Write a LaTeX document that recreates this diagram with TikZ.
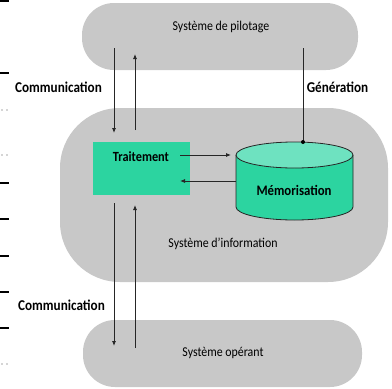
\documentclass[tikz,border=0pt]{standalone}
\usepackage{fontspec}
\setmainfont{Carlito}
\usetikzlibrary{arrows.meta}
\definecolor{pillgray}{RGB}{200,200,200}
\definecolor{tgreen}{RGB}{44,212,160}
\definecolor{tlight}{RGB}{110,226,192}
\newcommand{\cnd}[1]{\scalebox{0.88}[1]{#1}}
\begin{document}
\begin{tikzpicture}[x=1pt,y=-1pt,
  lab/.style={font=\bfseries\fontsize{15}{16}\selectfont,inner sep=0},
  tit/.style={font=\fontsize{13.5}{15}\selectfont,inner sep=0},
  conn/.style={draw=black!85,line width=0.8pt,-{Latex[length=5pt,width=4pt]}},
  edgemark/.style={draw=black,line width=1.4pt}]
\useasboundingbox (0,0) rectangle (392,389);
\fill[white] (0,0) rectangle (392,389);
% pills
\fill[pillgray,rounded corners=32pt] (82,3) rectangle (358,70);
\node[tit] (pil) at (221,27) {\cnd{Système de pilotage}};
\fill[pillgray,rounded corners=60pt] (60,108) rectangle (388,282);
\node[tit] (inf) at (223,244) {\cnd{Système d'information}};
\fill[pillgray,rounded corners=32pt] (83,320) rectangle (362,387);
\node[tit] (ope) at (223,353) {\cnd{Système opérant}};
% traitement
\node[fill=tgreen,minimum width=97pt,minimum height=53pt,inner sep=0] (tr) at (141.5,168.5) {};
\node[lab,font=\bfseries\fontsize{14}{15}\selectfont] at (141,157) {\cnd{Traitement}};
% cylinder
\filldraw[fill=tgreen,draw=black!85,line width=0.8pt]
  (236,155) -- (236,207) arc[start angle=180,end angle=360,x radius=58.5,y radius=-13] -- (353,155);
\filldraw[fill=tlight,draw=black!85,line width=0.8pt] (294.5,155) ellipse[x radius=58.5,y radius=13];
\node[lab,font=\bfseries\fontsize{14.5}{15}\selectfont] (mem) at (294,190) {\cnd{Mémorisation}};
\coordinate (memtop) at (303,142);
\coordinate (meml) at (236,181);
% connectors
\coordinate (p1) at (114,48);
\coordinate (p2) at (135,54);
\coordinate (p3) at (303,48);
\coordinate (t1) at (114,133);
\coordinate (t2) at (135,130);
\draw[conn] (p1) -- (t1);
\draw[conn] (t2) -- (p2);
\draw[draw=black!85,line width=0.8pt] (p3) -- (memtop);
\fill[black] (memtop) circle (2pt);
\draw[conn] (180,155) -- (231,155);
\draw[conn] (meml) -- (180,181);
\coordinate (b1) at (114,203);
\coordinate (b2) at (135,205);
\coordinate (o1) at (114,346);
\coordinate (o2) at (135,348);
\draw[conn] (b1) -- (o1);
\draw[conn] (o2) -- (b2);
% labels
\node[lab] (c1) at (58.5,87) {\cnd{Communication}};
\node[lab] (gen) at (337.5,87) {\cnd{Génération}};
\node[lab] (c2) at (61.5,305) {\cnd{Communication}};
% left edge marks
\foreach \y in {1,73,183,219,256,292,328} \draw[edgemark] (0,\y) -- (9,\y);
\foreach \y in {110,155,364} {\fill[black!70] (2,\y) circle (0.6pt); \fill[black!70] (7,\y) circle (0.7pt);}
\end{tikzpicture}
\end{document}
